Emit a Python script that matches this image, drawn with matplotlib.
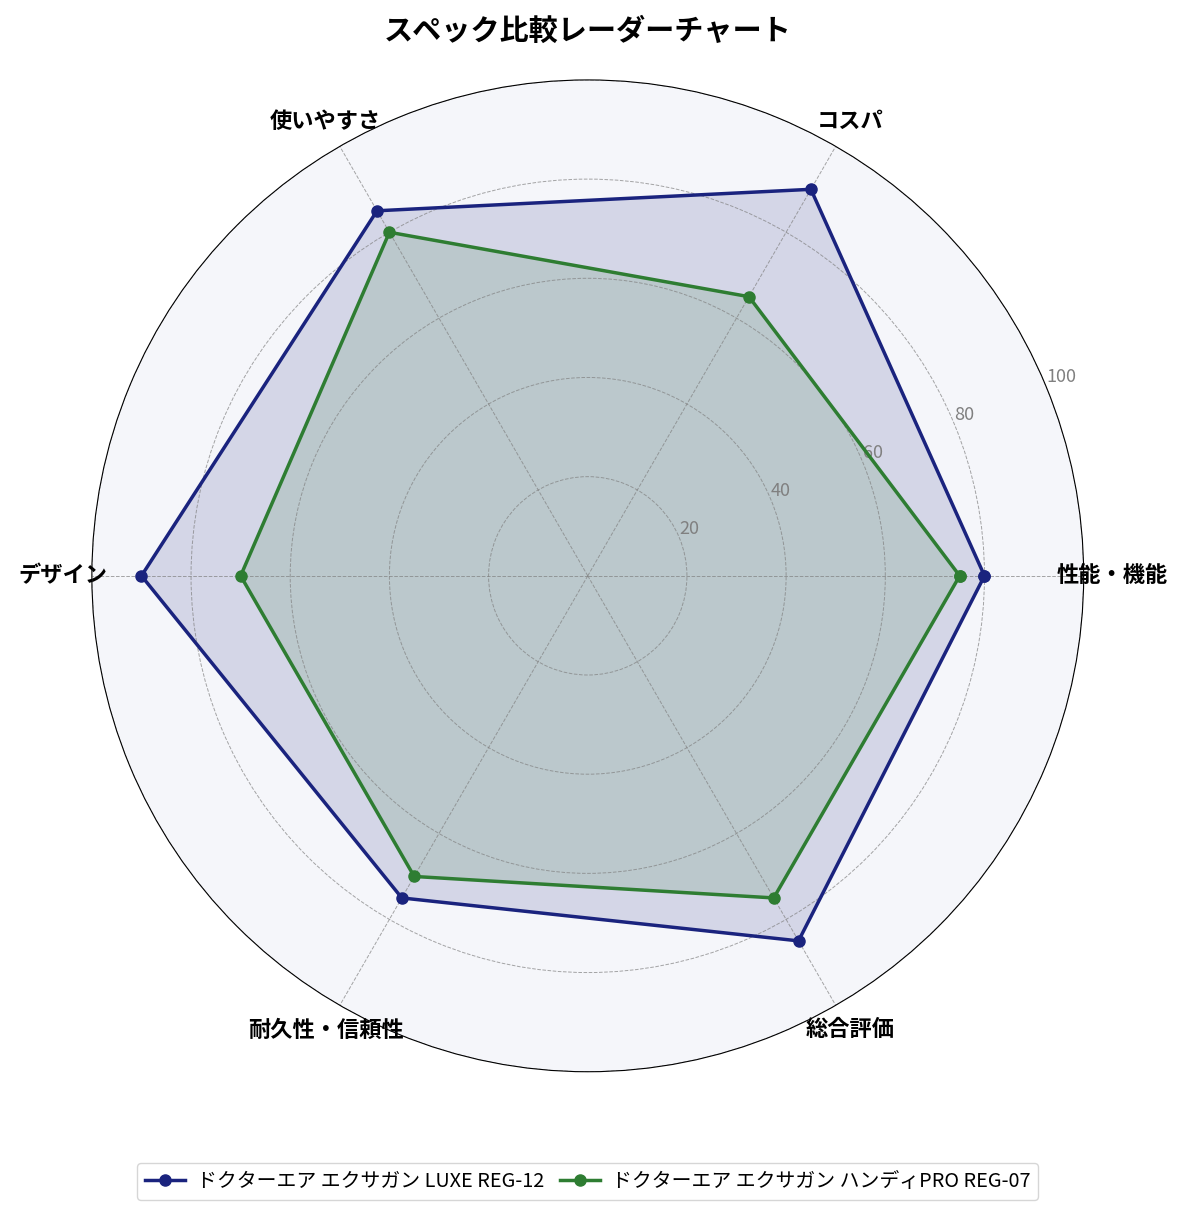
import numpy as np
import matplotlib.pyplot as plt

plt.rcParams['font.family'] = ['Noto Sans CJK JP', 'DejaVu Sans']

categories = ['性能・機能', 'コスパ', '使いやすさ', 'デザイン', '耐久性・信頼性', '総合評価']
luxe = [80, 90, 85, 90, 75, 85]
handy = [75, 65, 80, 70, 70, 75]
names = ['ドクターエア エクサガン LUXE REG-12', 'ドクターエア エクサガン ハンディPRO REG-07']
colors = ['#1a237e', '#2e7d32']

angles = np.linspace(0, 2 * np.pi, len(categories), endpoint=False)
ang_closed = np.concatenate([angles, angles[:1]])

fig = plt.figure(figsize=(11.85, 12.11), dpi=100)
ax = fig.add_axes([0.076, 0.115, 0.84, 0.819], polar=True)
ax.set_facecolor('#f5f6fa')

for vals, name, c in zip([luxe, handy], names, colors):
    v = np.concatenate([vals, vals[:1]])
    ax.plot(ang_closed, v, color=c, linewidth=2.5, marker='o', markersize=8, label=name)
    ax.fill(ang_closed, v, color=c, alpha=0.15)

ax.set_ylim(0, 100)
ax.set_yticks([20, 40, 60, 80, 100])
ax.set_yticklabels(['20', '40', '60', '80', '100'], color='gray', fontsize=13)
ax.set_xticks(angles)
ax.set_xticklabels(categories, fontsize=16, fontweight='bold')
ax.tick_params(axis='x', pad=10)
ax.grid(True, color='gray', linestyle='--', linewidth=0.7, alpha=0.7)

ax.set_title('スペック比較レーダーチャート', fontsize=21, fontweight='bold', pad=29)
ax.legend(loc='upper center', bbox_to_anchor=(0.5, -0.082), ncol=2, fontsize=14.3,
          columnspacing=0.8, handletextpad=0.6)

fig.savefig('out.png')
